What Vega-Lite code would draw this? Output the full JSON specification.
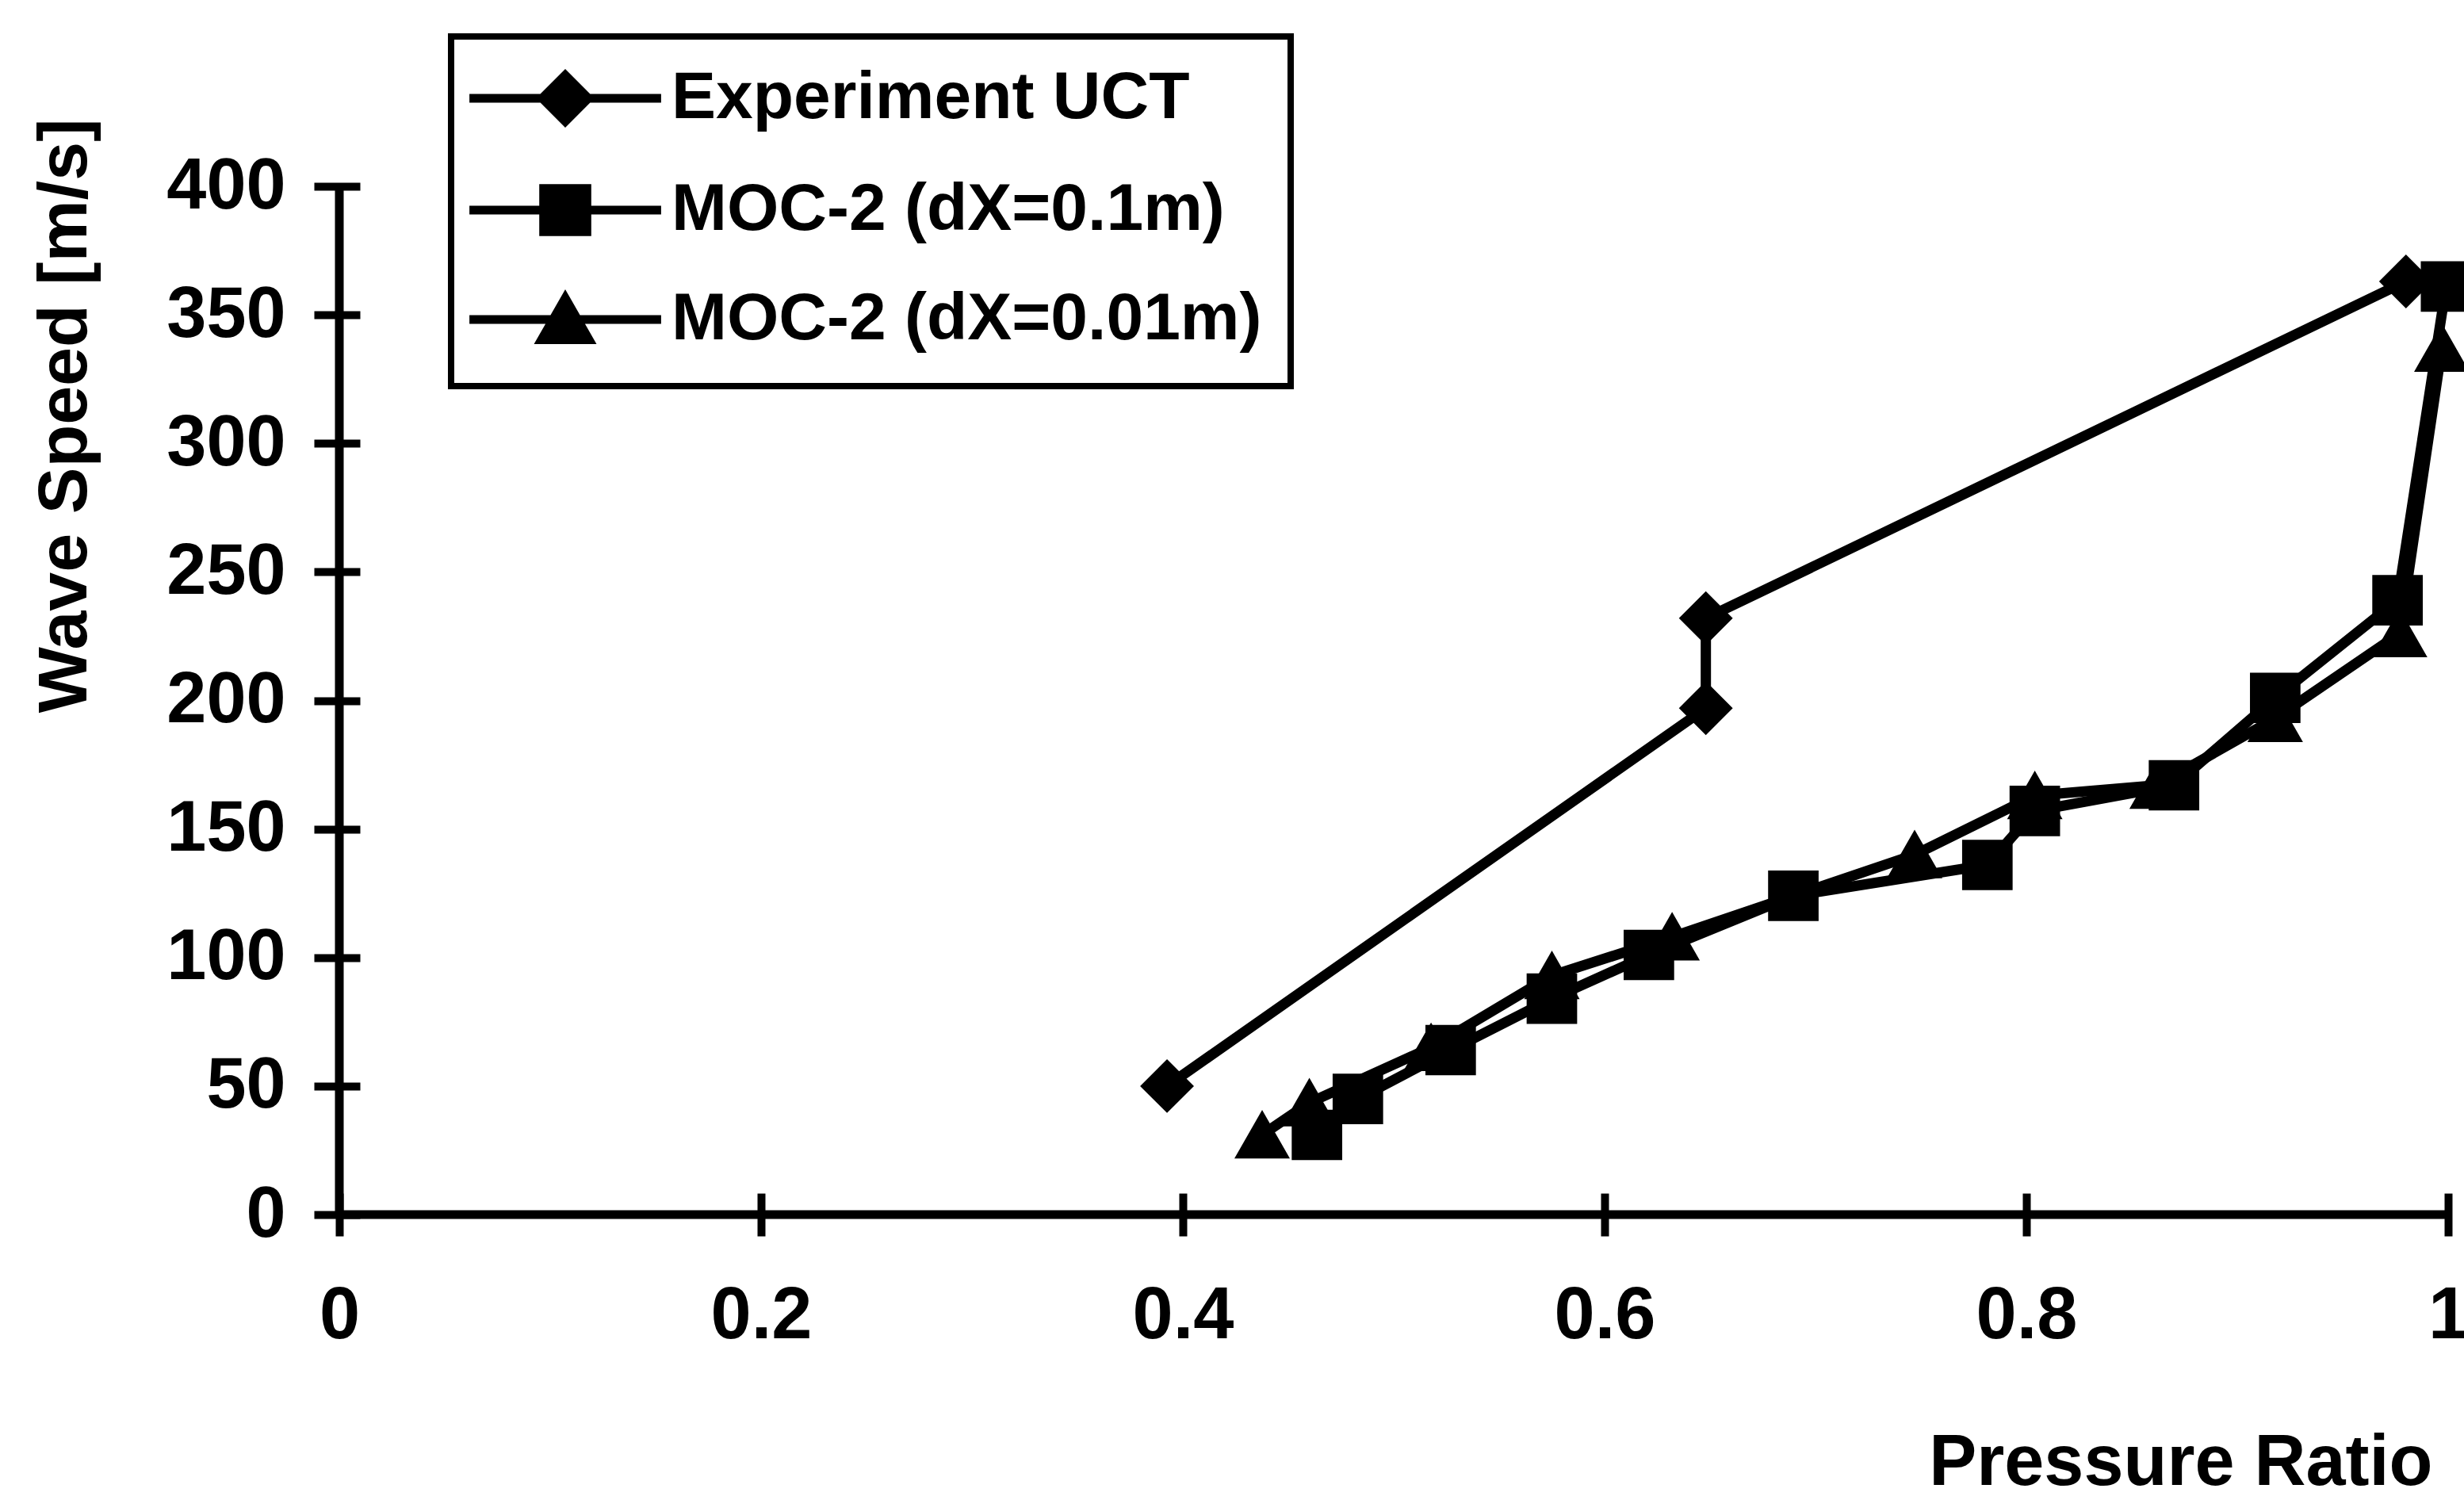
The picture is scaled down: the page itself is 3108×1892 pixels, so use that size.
{
  "$schema": "https://vega.github.io/schema/vega-lite/v6.json",
  "width": 2660,
  "height": 1297,
  "autosize": {"type": "none"},
  "padding": {"left": 428, "top": 235, "right": 20, "bottom": 360},
  "background": "white",
  "config": {"view": {"stroke": null}, "font": "Liberation Sans", "legend": {"strokeWidth": 8}},
  "datasets": {
    "waves": [
      {"series": "Experiment UCT", "i": 0, "pr": 0.3925, "ws": 50},
      {"series": "Experiment UCT", "i": 1, "pr": 0.648, "ws": 197},
      {"series": "Experiment UCT", "i": 2, "pr": 0.648, "ws": 232},
      {"series": "Experiment UCT", "i": 3, "pr": 0.98, "ws": 363},
      {"series": "MOC-2 (dX=0.1m)", "i": 0, "pr": 0.4636, "ws": 31},
      {"series": "MOC-2 (dX=0.1m)", "i": 1, "pr": 0.483, "ws": 45},
      {"series": "MOC-2 (dX=0.1m)", "i": 2, "pr": 0.527, "ws": 64},
      {"series": "MOC-2 (dX=0.1m)", "i": 3, "pr": 0.575, "ws": 84},
      {"series": "MOC-2 (dX=0.1m)", "i": 4, "pr": 0.621, "ws": 101},
      {"series": "MOC-2 (dX=0.1m)", "i": 5, "pr": 0.6895, "ws": 124},
      {"series": "MOC-2 (dX=0.1m)", "i": 6, "pr": 0.7815, "ws": 136},
      {"series": "MOC-2 (dX=0.1m)", "i": 7, "pr": 0.804, "ws": 157},
      {"series": "MOC-2 (dX=0.1m)", "i": 8, "pr": 0.87, "ws": 167},
      {"series": "MOC-2 (dX=0.1m)", "i": 9, "pr": 0.918, "ws": 201},
      {"series": "MOC-2 (dX=0.1m)", "i": 10, "pr": 0.976, "ws": 239},
      {"series": "MOC-2 (dX=0.1m)", "i": 11, "pr": 0.999, "ws": 361},
      {"series": "MOC-2 (dX=0.01m)", "i": 0, "pr": 0.4376, "ws": 31},
      {"series": "MOC-2 (dX=0.01m)", "i": 1, "pr": 0.46, "ws": 43.5},
      {"series": "MOC-2 (dX=0.01m)", "i": 2, "pr": 0.5177, "ws": 65},
      {"series": "MOC-2 (dX=0.01m)", "i": 3, "pr": 0.575, "ws": 93},
      {"series": "MOC-2 (dX=0.01m)", "i": 4, "pr": 0.632, "ws": 108},
      {"series": "MOC-2 (dX=0.01m)", "i": 5, "pr": 0.747, "ws": 140},
      {"series": "MOC-2 (dX=0.01m)", "i": 6, "pr": 0.804, "ws": 163},
      {"series": "MOC-2 (dX=0.01m)", "i": 7, "pr": 0.862, "ws": 167},
      {"series": "MOC-2 (dX=0.01m)", "i": 8, "pr": 0.918, "ws": 193},
      {"series": "MOC-2 (dX=0.01m)", "i": 9, "pr": 0.977, "ws": 226},
      {"series": "MOC-2 (dX=0.01m)", "i": 10, "pr": 0.997, "ws": 337}
    ],
    "none": []
  },
  "data": {"name": "waves"},
  "layer": [
    {
      "data": {"name": "none"},
      "mark": {"type": "point", "filled": true, "fill": "black", "stroke": "black", "strokeWidth": 11, "size": 3600, "opacity": 1},
      "encoding": {
        "x": {"field": "pr", "type": "quantitative", "title": "Pressure Ratio"},
        "y": {"field": "ws", "type": "quantitative", "title": "Wave Speed [m/s]"},
        "shape": {
          "field": "series",
          "type": "nominal",
          "legend": {
            "title": null,
            "orient": "none",
            "legendX": 141,
            "legendY": -189,
            "direction": "vertical",
            "strokeColor": "black",
            "fillColor": "white",
            "padding": 36,
            "cornerRadius": 0,
            "symbolSize": 3600,
            "symbolStrokeWidth": 11,
            "symbolOpacity": 1,
            "symbolOffset": 66,
            "labelOffset": 92,
            "labelFont": "Liberation Sans",
            "labelFontWeight": "bold",
            "labelFontSize": 84,
            "labelColor": "black",
            "labelLimit": 2000,
            "rowPadding": 39
          }
        }
      }
    },
    {
      "mark": {"type": "line", "color": "black", "strokeWidth": 13, "strokeJoin": "round"},
      "encoding": {
        "x": {
          "field": "pr",
          "type": "quantitative",
          "scale": {"domain": [0, 1], "nice": false, "zero": false},
          "axis": {
            "title": "Pressure Ratio",
            "values": [0, 0.2, 0.4, 0.6, 0.8, 1],
            "format": "~g",
            "grid": false,
            "domain": false,
            "offset": -27,
            "tickColor": "black",
            "tickWidth": 10,
            "tickSize": 54,
            "labelFont": "Liberation Sans",
            "labelFontWeight": "bold",
            "labelFontSize": 92,
            "labelColor": "black",
            "labelBaseline": "alphabetic",
            "labelPadding": 128,
            "labelFlush": false,
            "labelOverlap": false,
            "labelBound": false,
            "titleFont": "Liberation Sans",
            "titleFontWeight": "bold",
            "titleFontSize": 90,
            "titleColor": "black",
            "titleAnchor": "end",
            "titleAlign": "right",
            "titleBaseline": "alphabetic",
            "titleX": 2640,
            "titleY": 367
          }
        },
        "y": {
          "field": "ws",
          "type": "quantitative",
          "scale": {"domain": [0, 400], "nice": false},
          "axis": {
            "title": "Wave Speed [m/s]",
            "values": [0, 50, 100, 150, 200, 250, 300, 350, 400],
            "grid": false,
            "domain": false,
            "offset": -26,
            "tickColor": "black",
            "tickWidth": 10,
            "tickSize": 58,
            "labelFont": "Liberation Sans",
            "labelFontWeight": "bold",
            "labelFontSize": 90,
            "labelColor": "black",
            "labelPadding": 36,
            "labelBaseline": "middle",
            "labelOverlap": false,
            "labelFlush": false,
            "titleFont": "Liberation Sans",
            "titleFontWeight": "bold",
            "titleFontSize": 88,
            "titleColor": "black",
            "titleAngle": 270,
            "titleAnchor": "end",
            "titleAlign": "right",
            "titleBaseline": "alphabetic",
            "titleX": -346,
            "titleY": -86
          }
        },
        "detail": {"field": "series", "type": "nominal"},
        "order": {"field": "i", "type": "quantitative"}
      }
    },
    {
      "mark": {"type": "point", "filled": true, "color": "black", "size": 4900, "opacity": 1},
      "encoding": {
        "x": {"field": "pr", "type": "quantitative", "title": "Pressure Ratio"},
        "y": {"field": "ws", "type": "quantitative", "title": "Wave Speed [m/s]"},
        "shape": {
          "field": "series",
          "type": "nominal",
          "scale": {
            "domain": ["Experiment UCT", "MOC-2 (dX=0.1m)", "MOC-2 (dX=0.01m)"],
            "range": [
              "M-4.03,0H4.03M-0.97,0L0,-0.97L0.97,0L0,0.97Z",
              "M-4.03,0H4.03M-0.91,-0.91H0.91V0.91H-0.91Z",
              "M-4.03,0H4.03M0,-0.9L1,0.85L-1,0.85Z"
            ]
          }
        }
      }
    },
    {
      "data": {"values": [{"axisline": "x"}]},
      "mark": {"type": "rule", "color": "black", "strokeWidth": 11},
      "encoding": {"y": {"datum": 0, "type": "quantitative", "title": "Wave Speed [m/s]"}}
    },
    {
      "data": {"values": [{"axisline": "y"}]},
      "mark": {"type": "rule", "color": "black", "strokeWidth": 11},
      "encoding": {"x": {"datum": 0, "type": "quantitative", "title": "Pressure Ratio"}}
    }
  ]
}
